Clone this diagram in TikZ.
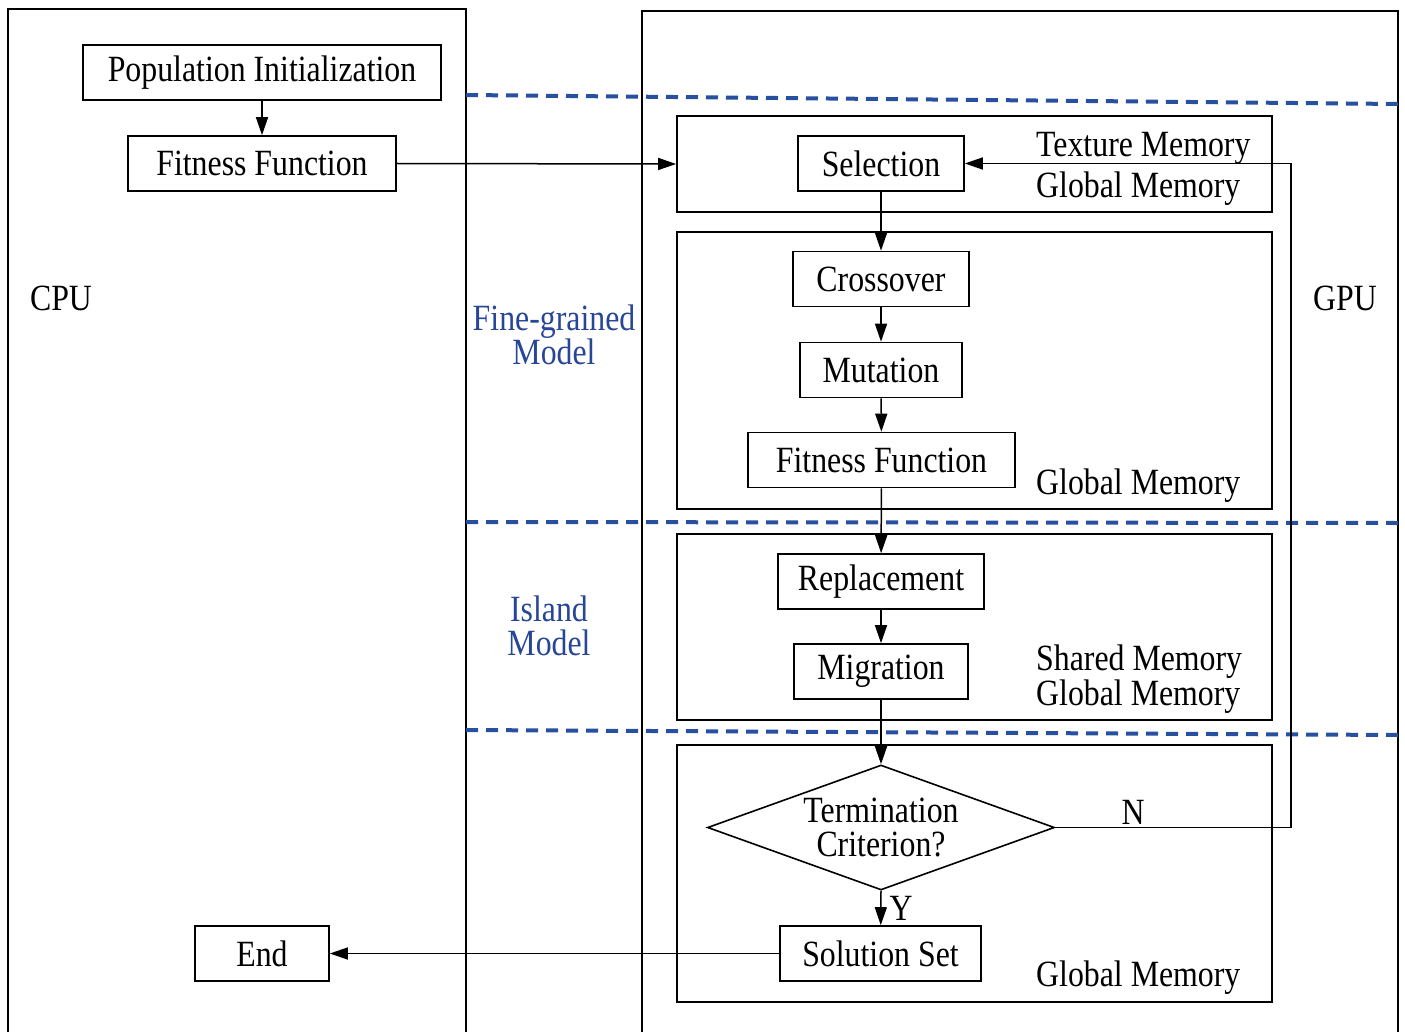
\documentclass[tikz,border=0pt]{standalone}
\usepackage{fontspec}
\setmainfont{Liberation Serif}[FakeStretch=0.86]
\usetikzlibrary{arrows.meta,shapes.geometric}
\definecolor{dashblue}{RGB}{40,80,160}
\definecolor{txtblue}{RGB}{40,70,150}
\tikzset{
  stepbox/.style={draw, line width=1.6pt, minimum height=55pt, inner sep=0pt},
  region/.style={draw, line width=1.8pt, minimum width=595pt, inner sep=0pt},
  arr/.style={line width=1.5pt, -{Triangle[length=18pt,width=12pt]}},
  sep/.style={dashblue, line width=4pt, dash pattern=on 12pt off 8pt},
  lbl/.style={inner sep=0pt},
  memlbl/.style={inner sep=0pt, anchor=west},
}
\begin{document}
\begin{tikzpicture}[x=1pt,y=-1pt,font=\fontsize{37}{34}\selectfont]
\useasboundingbox (0,0) rectangle (1405,1032);
% CPU and GPU frames
\draw[line width=1.6pt] (8,1034) -- (8,9) -- (466,9) -- (466,1034);
\draw[line width=1.6pt] (642,1034) -- (642,11) -- (1398,11) -- (1398,1034);
% separators
\draw[sep] (466,95) -- (1398,104);
\draw[sep] (466,522) -- (1398,523);
\draw[sep] (466,730) -- (1398,735);
% GPU regions
\node[region, minimum height=96pt] (r1) at (974.5,164) {};
\node[region, minimum height=277pt] (r2) at (974.5,370.5) {};
\node[region, minimum height=186pt] (r3) at (974.5,627) {};
\node[region, minimum height=257pt] (r4) at (974.5,873.5) {};
% CPU nodes
\node[stepbox, minimum width=358pt] (pop) at (262,72.5) {Population Initialization};
\node[stepbox, minimum width=268pt] (fit1) at (262,163.5) {Fitness Function};
\node[stepbox, minimum width=134pt] (endn) at (262,953.5) {End};
% GPU nodes
\node[stepbox, minimum width=166pt] (sel) at (881,163.5) {Selection};
\node[stepbox, minimum width=176pt] (cross) at (881,279) {Crossover};
\node[stepbox, minimum width=162pt] (mut) at (881,370) {Mutation};
\node[stepbox, minimum width=267pt] (fit2) at (881.5,460) {Fitness Function};
\node[stepbox, minimum width=206pt] (rep) at (881,581.5) {Replacement};
\node[stepbox, minimum width=174pt] (mig) at (881,671.5) {Migration};
\node[draw, line width=1.6pt, diamond, aspect=2.776, minimum width=347pt, minimum height=125pt, inner sep=0pt, align=center] (dia) at (881,827.5) {Termination\\Criterion?};
\node[stepbox, minimum width=201pt] (sol) at (880.5,953.5) {Solution Set};
% memory labels
\node[memlbl] (m1) at (1036,148) {Texture Memory};
\node[memlbl] (m2) at (1036,189) {Global Memory};
\node[memlbl] (m3) at (1036,486) {Global Memory};
\node[memlbl] (m4) at (1036,662) {Shared Memory};
\node[memlbl] (m5) at (1036,697) {Global Memory};
\node[memlbl] (m6) at (1036,978) {Global Memory};
% side labels
\node[lbl] (cpu) at (61,298) {CPU};
\node[lbl] (gpu) at (1345,298) {GPU};
\node[lbl, txtblue, align=center] (fg) at (554,335) {Fine-grained\\Model};
\node[lbl, txtblue, align=center] (isl) at (549,626) {Island\\Model};
% connectors
\draw[arr] (pop) -- (fit1);
\draw[arr] (fit1.east) -- (r1.west);
\draw[arr] (sel) -- (cross);
\draw[arr] (cross) -- (mut);
\draw[arr] (mut) -- (fit2);
\draw[arr] (fit2) -- (rep);
\draw[arr] (rep) -- (mig);
\draw[arr] (mig) -- (dia.north);
\draw[arr] (dia.south) -- node[right, inner sep=8pt, pos=0.5] (ylab) {Y} (sol);
\coordinate (fb) at (1291,827.5);
\draw[arr] (dia.east) -- node[above, pos=0.33, inner sep=2pt] (nlab) {N} (fb) |- (sel.east);
\draw[arr] (sol.west) -- (endn.east);
\end{tikzpicture}
\end{document}
